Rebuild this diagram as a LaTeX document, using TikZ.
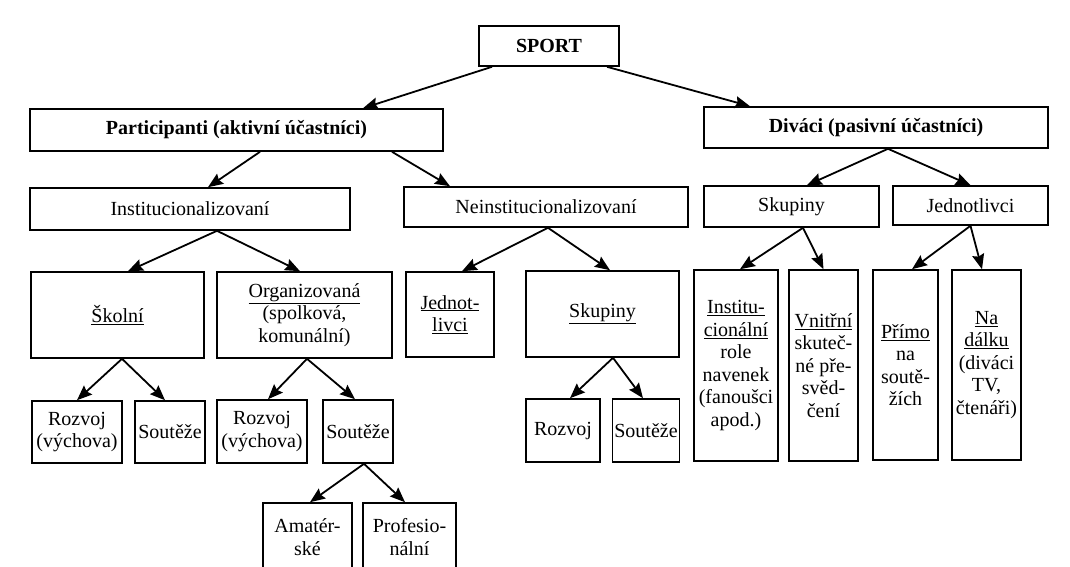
\documentclass[tikz,border=0pt]{standalone}
\usepackage{fontspec}
\setmainfont{Liberation Serif}
\usetikzlibrary{arrows.meta}
\begin{document}
\begin{tikzpicture}
[x=1pt,y=-1pt,
 boxdecorate/.style={shape=rectangle,draw,line width=1.6pt,inner sep=2pt,align=center,%
   font=\fontsize{20}{22.5}\selectfont},
 linedecorate/.style={-{Stealth[length=15pt,width=12pt,inset=2pt]},line width=1.8pt}]
\clip (0,0) rectangle (1070,566);
%% nodes or boxes
\foreach \nodename/\x/\y/\w/\h/\txt in {
  sport/549/46/140/40/{\textbf{SPORT}},
  part/236.5/130/413/42/{\textbf{Participanti (aktivní účastníci)}},
  div/876/127.5/344/41/{\textbf{Diváci (pasivní účastníci)}},
  inst/190/209/320/42/{Institucionalizovaní},
  neinst/546/207/284/40/{Neinstitucionalizovaní},
  skup/791.5/206.5/175/41/{Skupiny},
  jedn/970.5/205.5/155/39/{Jednotlivci},
  skol/117.5/315/173/86/{\underline{Školní}},
  org/304.5/315/175/86/{\underline{Organizovaná}\\(spolková,\\komunální)},
  jedn2/450/314.5/88/85/{\underline{Jednot-}\\\underline{livci}},
  skup2/602.5/314/153/86/{\underline{Skupiny}},
  instr/736/365.5/84/191/{\underline{Institu-}\\\underline{cionální}\\role\\navenek\\(fanoušci\\apod.)},
  vnit/823.5/365.5/69/191/{\underline{Vnitřní}\\skuteč-\\né pře-\\svěd-\\čení},
  primo/905.5/365/65/190/{\underline{Přímo}\\na\\soutě-\\žích},
  dalku/986.5/365/69/190/{\underline{Na}\\\underline{dálku}\\(diváci\\TV,\\čtenáři)},
  roz1/77/432/90/62/{Rozvoj\\(výchova)},
  sou1/170/432/70/62/{Soutěže},
  roz2/262/431.5/90/63/{Rozvoj\\(výchova)},
  sou2/358/431.5/70/63/{Soutěže},
  roz3/563/430.5/74/63/{Rozvoj},
  sou3/646/430.5/66/63/{Soutěže},
  ama/307.5/537/89/68/{Amatér-\\ské},
  prof/409.5/537/93/68/{Profesio-\\nální}} {
  \node (\nodename) at (\x,\y) [boxdecorate,minimum width=\w pt,minimum height=\h pt] {\txt};
}
%% arrows
\foreach \a/\sa/\b/\sb in {sport/-57/part/126.5, sport/58/div/-126,
  part/23.5/inst/18, part/155.5/neinst/-96, div/12/skup/15.5, div/12/jedn/0,
  inst/27/skol/10.5, inst/27/org/-4.5, neinst/2/jedn2/12, neinst/2/skup2/7.5,
  skup/11.5/instr/4, skup/11.5/vnit/0, jedn/0/primo/6.5, jedn/0/dalku/-4.5,
  skol/4.5/roz1/0, skol/4.5/sou1/-5, org/2.5/roz2/6, org/2.5/sou2/-3,
  skup2/10.5/roz3/7, skup2/10.5/sou3/-3, sou2/6/ama/2.5, sou2/6/prof/-4.5} {
  \draw[linedecorate] ([xshift=\sa pt]\a.south) -- ([xshift=\sb pt]\b.north);
}
\end{tikzpicture}
\end{document}
